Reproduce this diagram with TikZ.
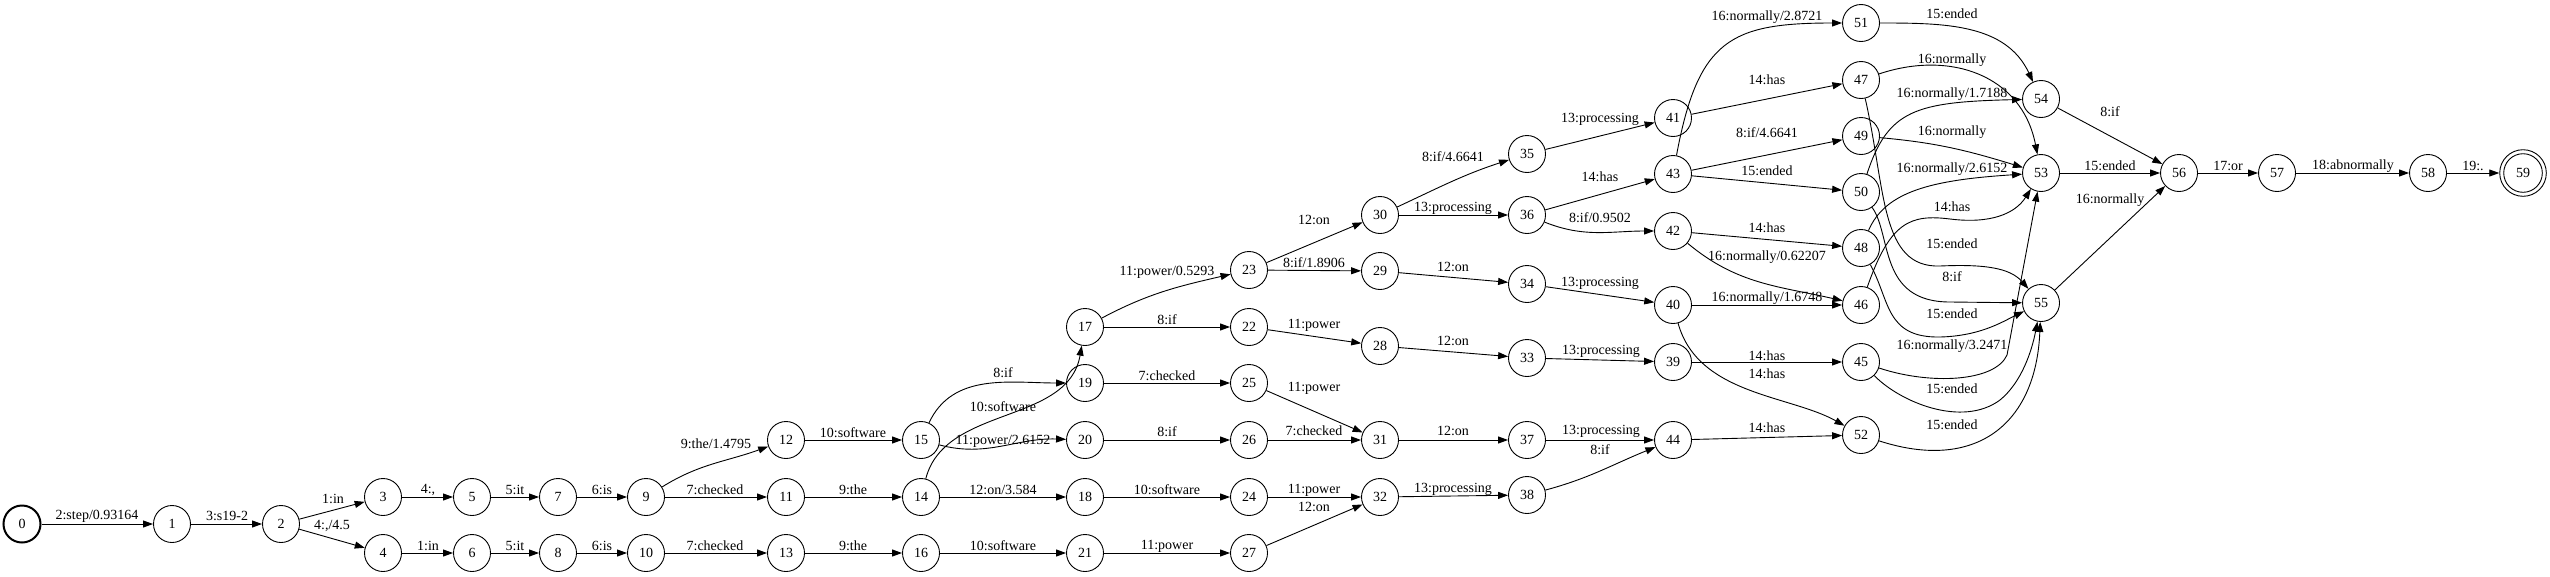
\documentclass[tikz,border=0pt]{standalone}
\usepackage{fontspec}
\setmainfont{Liberation Serif}
\usetikzlibrary{arrows.meta}
\begin{document}
\begin{tikzpicture}[x=1pt,y=-1pt,
  st/.style={circle, draw, line width=0.9pt, minimum size=37pt, inner sep=0pt, font=\fontsize{14}{16}\selectfont},
  edge/.style={draw, line width=0.9pt, -{Triangle[length=10pt,width=7pt]}},
  lbl/.style={inner sep=0pt, font=\fontsize{14}{16}\selectfont}]
\useasboundingbox (0,0) rectangle (2550,576);
\node[st, line width=2pt] (n0) at (22,524) {0};
\node[st] (n1) at (172,524) {1};
\node[st] (n2) at (281,524) {2};
\node[st] (n3) at (383,497) {3};
\node[st] (n4) at (383,553) {4};
\node[st] (n5) at (472,497) {5};
\node[st] (n6) at (472,553) {6};
\node[st] (n7) at (558,497) {7};
\node[st] (n8) at (558,553) {8};
\node[st] (n9) at (646,497) {9};
\node[st] (n10) at (646,553) {10};
\node[st] (n11) at (786,497) {11};
\node[st] (n12) at (786,440) {12};
\node[st] (n13) at (786,553) {13};
\node[st] (n14) at (921,497) {14};
\node[st] (n15) at (921,440) {15};
\node[st] (n16) at (921,553) {16};
\node[st] (n17) at (1085,327) {17};
\node[st] (n18) at (1085,497) {18};
\node[st] (n19) at (1085,383) {19};
\node[st] (n20) at (1085,440) {20};
\node[st] (n21) at (1085,553) {21};
\node[st] (n22) at (1249,327) {22};
\node[st] (n23) at (1249,270) {23};
\node[st] (n24) at (1249,497) {24};
\node[st] (n25) at (1249,383) {25};
\node[st] (n26) at (1249,440) {26};
\node[st] (n27) at (1249,553) {27};
\node[st] (n28) at (1380,346) {28};
\node[st] (n29) at (1380,271) {29};
\node[st] (n30) at (1380,215) {30};
\node[st] (n31) at (1380,440) {31};
\node[st] (n32) at (1380,497) {32};
\node[st] (n33) at (1527,358) {33};
\node[st] (n34) at (1527,284) {34};
\node[st] (n35) at (1527,154) {35};
\node[st] (n36) at (1527,215) {36};
\node[st] (n37) at (1527,440) {37};
\node[st] (n38) at (1527,495) {38};
\node[st] (n39) at (1673,362) {39};
\node[st] (n40) at (1673,305) {40};
\node[st] (n41) at (1673,118) {41};
\node[st] (n42) at (1673,231) {42};
\node[st] (n43) at (1673,174) {43};
\node[st] (n44) at (1673,440) {44};
\node[st] (n45) at (1861,362) {45};
\node[st] (n46) at (1861,305) {46};
\node[st] (n47) at (1861,80) {47};
\node[st] (n48) at (1861,248) {48};
\node[st] (n49) at (1861,136) {49};
\node[st] (n50) at (1861,192) {50};
\node[st] (n51) at (1861,23) {51};
\node[st] (n52) at (1861,435) {52};
\node[st] (n53) at (2041,173) {53};
\node[st] (n54) at (2041,99) {54};
\node[st] (n55) at (2041,303) {55};
\node[st] (n56) at (2179,173) {56};
\node[st] (n57) at (2277,173) {57};
\node[st] (n58) at (2428,173) {58};
\node[st, minimum size=46.6pt] (n59) at (2523,173) {59};
\draw[line width=0.9pt] (n59.center) circle (19.3pt);

\draw[edge] (n0) -- (n1) node[lbl] at (97,516) {2:step/0.93164};
\draw[edge] (n1) -- (n2) node[lbl] at (227,516) {3:s19-2};
\draw[edge] (n2) -- (n3) node[lbl] at (333,499) {1:in};
\draw[edge] (n2) -- (n4) node[lbl] at (332,526) {4:,/4.5};
\draw[edge] (n3) -- (n5) node[lbl] at (428,490) {4:,};
\draw[edge] (n4) -- (n6) node[lbl] at (428,546) {1:in};
\draw[edge] (n5) -- (n7) node[lbl] at (515,490) {5:it};
\draw[edge] (n6) -- (n8) node[lbl] at (515,546) {5:it};
\draw[edge] (n7) -- (n9) node[lbl] at (602,490) {6:is};
\draw[edge] (n8) -- (n10) node[lbl] at (602,546) {6:is};
\draw[edge] (n9) to[out=32,in=200] (n12); \node[lbl] (l912) at (716,444) {9:the/1.4795};
\draw[edge] (n9) -- (n11) node[lbl] at (715,490) {7:checked};
\draw[edge] (n10) -- (n13) node[lbl] at (715,546) {7:checked};
\draw[edge] (n12) -- (n15) node[lbl] at (853,433) {10:software};
\draw[edge] (n11) -- (n14) node[lbl] at (853,490) {9:the};
\draw[edge] (n13) -- (n16) node[lbl] at (853,546) {9:the};
\draw[edge] (n15) to[out=65,in=180] (n19); \node[lbl] (l1519) at (1003,373) {8:if};
\draw[edge] (n14) .. controls (945,405) and (1068,425) .. (n17); \node[lbl] (l1417) at (1003,407) {10:software};
\draw[edge] (n15) to[out=-15,in=178] (n20); \node[lbl] (l1520) at (1003,441) {11:power/2.6152};
\draw[edge] (n14) -- (n18) node[lbl] at (1003,490) {12:on/3.584};
\draw[edge] (n16) -- (n21) node[lbl] at (1003,546) {10:software};
\draw[edge] (n17) to[out=28,in=193] (n23); \node[lbl] (l1723) at (1167,272) {11:power/0.5293};
\draw[edge] (n17) -- (n22) node[lbl] at (1167,320) {8:if};
\draw[edge] (n19) -- (n25) node[lbl] at (1167,376) {7:checked};
\draw[edge] (n20) -- (n26) node[lbl] at (1167,432) {8:if};
\draw[edge] (n18) -- (n24) node[lbl] at (1167,490) {10:software};
\draw[edge] (n21) -- (n27) node[lbl] at (1167,546) {11:power};
\draw[edge] (n22) -- (n28) node[lbl] at (1314,325) {11:power};
\draw[edge] (n25) -- (n31) node[lbl] at (1314,388) {11:power};
\draw[edge] (n26) -- (n31) node[lbl] at (1314,431) {7:checked};
\draw[edge] (n24) -- (n32) node[lbl] at (1314,490) {11:power};
\draw[edge] (n27) -- (n32) node[lbl] at (1314,507) {12:on};
\draw[edge] (n23) -- (n30) node[lbl] at (1314,220) {12:on};
\draw[edge] (n23) -- (n29) node[lbl] at (1314,263) {8:if/1.8906};
\draw[edge] (n28) -- (n33) node[lbl] at (1453,341) {12:on};
\draw[edge] (n31) -- (n37) node[lbl] at (1453,431) {12:on};
\draw[edge] (n32) -- (n38) node[lbl] at (1453,489) {13:processing};
\draw[edge] (n29) -- (n34) node[lbl] at (1453,267) {12:on};
\draw[edge] (n30) to[out=25,in=198] (n35); \node[lbl] (l3035) at (1453,157) {8:if/4.6641};
\draw[edge] (n30) -- (n36) node[lbl] at (1453,208) {13:processing};
\draw[edge] (n33) -- (n39) node[lbl] at (1601,351) {13:processing};
\draw[edge] (n37) -- (n44) node[lbl] at (1601,431) {13:processing};
\draw[edge] (n38) to[out=15,in=202] (n44); \node[lbl] (l3844) at (1600,450) {8:if};
\draw[edge] (n34) -- (n40) node[lbl] at (1600,283) {13:processing};
\draw[edge] (n35) -- (n41) node[lbl] at (1600,119) {13:processing};
\draw[edge] (n36) -- (n43) node[lbl] at (1600,177) {14:has};
\draw[edge] (n36) to[out=-22,in=180] (n42); \node[lbl] (l3642) at (1600,218) {8:if/0.9502};
\draw[edge] (n43) .. controls (1698,40) and (1730,23) .. (n51); \node[lbl] (l4351) at (1767,17) {16:normally/2.8721};
\draw[edge] (n41) -- (n47) node[lbl] at (1767,80) {14:has};
\draw[edge] (n43) -- (n49) node[lbl] at (1767,133) {8:if/4.6641};
\draw[edge] (n43) -- (n50) node[lbl] at (1767,171) {15:ended};
\draw[edge] (n42) -- (n48) node[lbl] at (1767,228) {14:has};
\draw[edge] (n42) to[out=-40,in=167] (n46); \node[lbl] (l4246) at (1767,257) {16:normally/0.62207};
\draw[edge] (n40) -- (n46) node[lbl] at (1767,298) {16:normally/1.6748};
\draw[edge] (n39) -- (n45) node[lbl] at (1767,356) {14:has};
\draw[edge] (n40) .. controls (1698,395) and (1790,395) .. (n52); \node[lbl] (l4052) at (1767,374) {14:has};
\draw[edge] (n44) -- (n52) node[lbl] at (1767,428) {14:has};
\draw[edge] (n51) to[out=0,in=115] (n54); \node[lbl] (l5154) at (1952,14) {15:ended};
\draw[edge] (n47) .. controls (1950,50) and (2022,75) .. (n53); \node[lbl] (l4753) at (1952,60) {16:normally};
\draw[edge] (n50) .. controls (1888,110) and (1915,102) .. (n54); \node[lbl] (l5054) at (1952,94) {16:normally/1.7188};
\draw[edge] (n49) to[out=-5,in=163] (n53); \node[lbl] (l4953) at (1952,132) {16:normally};
\draw[edge] (n48) .. controls (1885,192) and (1930,180) .. (n53); \node[lbl] (l4853) at (1952,169) {16:normally/2.6152};
\draw[edge] (n46) .. controls (1890,222) and (1910,214) .. (1950,219) .. controls (1990,224) and (2015,214) .. (n53); \node[lbl] (l4653) at (1952,207) {14:has};
\draw[edge] (n47) .. controls (1886,190) and (1880,268) .. (1940,266) .. controls (1985,264) and (2010,268) .. (n55); \node[lbl] (l4755) at (1952,244) {15:ended};
\draw[edge] (n50) .. controls (1892,235) and (1878,302) .. (1950,302) -- (n55); \node[lbl] (l5055) at (1952,277) {8:if};
\draw[edge] (n48) .. controls (1890,300) and (1885,338) .. (1940,337) .. controls (1980,336) and (2002,322) .. (n55); \node[lbl] (l4855) at (1952,314) {15:ended};
\draw[edge] (n45) .. controls (1930,385) and (1995,382) .. (2007,355) -- (n53); \node[lbl] (l4553) at (1952,346) {16:normally/3.2471};
\draw[edge] (n45) .. controls (1900,402) and (1962,428) .. (2000,400) .. controls (2022,382) and (2032,350) .. (n55); \node[lbl] (l4555) at (1952,389) {15:ended};
\draw[edge] (n52) .. controls (1975,472) and (2036,425) .. (n55); \node[lbl] (l5255) at (1952,425) {15:ended};
\draw[edge] (n54) -- (n56) node[lbl] at (2110,112) {8:if};
\draw[edge] (n53) -- (n56) node[lbl] at (2110,166) {15:ended};
\draw[edge] (n55) -- (n56) node[lbl] at (2110,200) {16:normally};
\draw[edge] (n56) -- (n57) node[lbl] at (2228,166) {17:or};
\draw[edge] (n57) -- (n58) node[lbl] at (2353,166) {18:abnormally};
\draw[edge] (n58) -- (n59) node[lbl] at (2473,166) {19:.};
\end{tikzpicture}
\end{document}
